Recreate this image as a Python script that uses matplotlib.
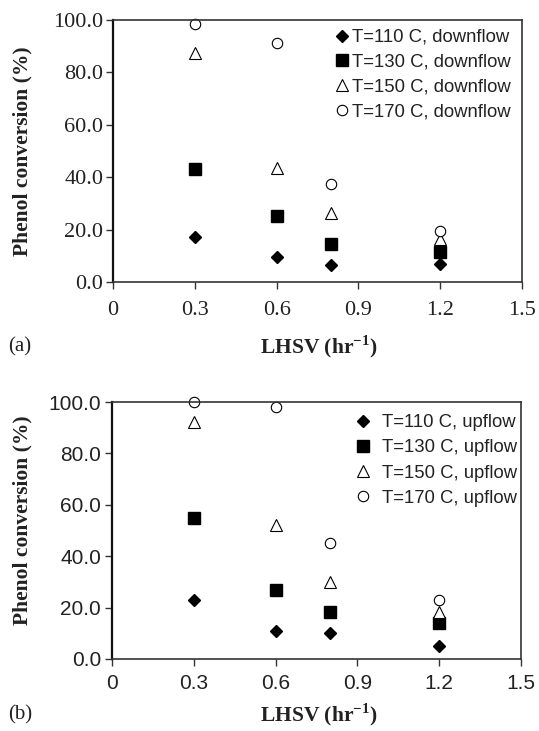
import matplotlib
matplotlib.use("Agg")
import matplotlib.pyplot as plt

# LHSV values (hr^-1)
lhsv = [0.3, 0.6, 0.8, 1.2]

# (a) downflow, phenol conversion (%)
down_110 = [17.1, 9.5, 6.4, 7.0]
down_130 = [43.0, 25.2, 14.4, 11.5]
down_150 = [87.5, 43.4, 26.4, 16.3]
down_170 = [98.3, 91.1, 37.5, 19.3]

# (b) upflow, phenol conversion (%)
up_110 = [23.0, 11.0, 10.1, 5.1]
up_130 = [54.9, 26.9, 18.1, 14.2]
up_150 = [92.2, 52.1, 30.0, 18.4]
up_170 = [100.0, 97.9, 45.1, 23.0]

temps = ["110", "130", "150", "170"]
xticks = [0, 0.3, 0.6, 0.9, 1.2, 1.5]
yticks = [0, 20, 40, 60, 80, 100]

plt.rcParams['mathtext.fontset'] = 'custom'
plt.rcParams['mathtext.rm'] = 'Liberation Serif:bold'
plt.rcParams['mathtext.bf'] = 'Liberation Serif:bold'

serif = 'Liberation Serif'
sans = 'Liberation Sans'

styles = [
    dict(marker='D', ms=6, mfc='black', mec='black'),
    dict(marker='s', ms=8, mfc='black', mec='black'),
    dict(marker='^', ms=8, mfc='white', mec='black', mew=0.8),
    dict(marker='o', ms=7.5, mfc='white', mec='black', mew=0.8),
]

fig = plt.figure(figsize=(5.39, 7.31), dpi=100)
axa = fig.add_axes([113/539, 1-282/731, 409/539, 262/731])
axb = fig.add_axes([112/539, 1-659/731, 409/539, 257/731])


def draw(ax, series, flow, tickfont, fs, xpad, ypad, handletextpad, lx, ly, lsp):
    for s, t, st in zip(series, temps, styles):
        ax.plot(lhsv, s, ls='none', label="T=%s C, %s" % (t, flow),
                clip_on=False, **st)
    ax.set_xlim(0, 1.5)
    ax.set_ylim(0, 100)
    ax.set_xticks(xticks)
    ax.set_xticklabels(["0", "0.3", "0.6", "0.9", "1.2", "1.5"])
    ax.set_yticks(yticks)
    ax.set_yticklabels(["%.1f" % v for v in yticks])
    for lab in ax.get_xticklabels() + ax.get_yticklabels():
        lab.set_fontfamily(tickfont)
        lab.set_fontsize(fs)
        lab.set_color('#222222')
    ax.tick_params(direction='out', length=5, width=1, color='#333333')
    ax.tick_params(axis='x', pad=xpad)
    ax.tick_params(axis='y', pad=ypad)
    for sp in ax.spines.values():
        sp.set_linewidth(1.2)
        sp.set_color('#333333')
    ax.spines['left'].set_color('#111111')
    ax.spines['left'].set_linewidth(1.6)
    leg = ax.legend(loc='upper left', bbox_to_anchor=(lx, ly), frameon=False,
                    prop={'family': sans, 'size': 13.3}, handlelength=0.6,
                    handletextpad=handletextpad, labelspacing=lsp,
                    borderaxespad=0, borderpad=0, numpoints=1)
    for t in leg.get_texts():
        t.set_color('#222222')


draw(axa, [down_110, down_130, down_150, down_170], "downflow", serif, 16, 9, 2,
     0.25, (336-113)/409, 1-(29-20)/262, 0.42)
draw(axb, [up_110, up_130, up_150, up_170], "upflow", sans, 15, 6, 3,
     0.75, (357-112)/409, 1-(414-402)/257, 0.45)

for y0 in [151, 520]:
    fig.text(22/539, 1-y0/731, "Phenol conversion (%)", rotation=90,
             ha='center', va='center', family=serif, weight='bold', fontsize=15.5,
             color='#222222')
for y0, tag in [(347, "(a)"), (715, "(b)")]:
    fig.text(319/539, 1-y0/731, r"LHSV (hr$^{-1}$)", ha='center', va='center',
             family=serif, weight='bold', fontsize=15.5, color='#222222')
    fig.text(8/539, 1-y0/731, tag, ha='left', va='center', family=serif,
             fontsize=15, color='#222222')

fig.savefig("out.png", dpi=100)
